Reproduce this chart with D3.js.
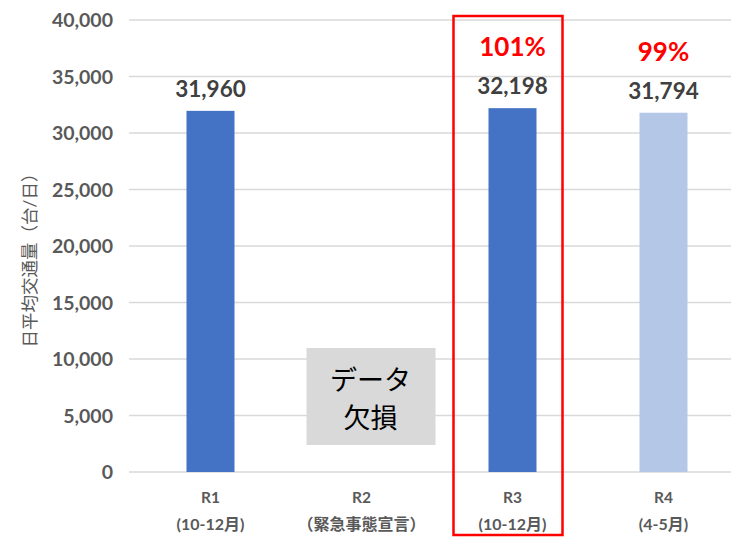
<!DOCTYPE html>
<html>
<head>
<meta charset="utf-8">
<script src="https://cdn.jsdelivr.net/npm/d3@7"></script>
<style>
  body { margin: 0; background: #fff; }
  text { font-family: Lato, "Noto Sans CJK JP", sans-serif; }
</style>
</head>
<body>
<script>
const categories = ["R1", "R2", "R3", "R4"];
const subLabels = ["(10-12月)", "（緊急事態宣言）", "(10-12月)", "(4-5月)"];
const values = [31960, null, 32198, 31794];
const barColors = ["#4472c4", "#4472c4", "#4472c4", "#b4c7e7"];
const ratioLabels = [null, null, "101%", "99%"];
const yTicks = [0, 5000, 10000, 15000, 20000, 25000, 30000, 35000, 40000];

const main = () => {
  const width = 731, height = 541;
  const svg = d3.select("body").append("svg")
    .attr("width", width)
    .attr("height", height);

  const x = d3.scaleBand()
    .domain(categories)
    .range([135, 739])
    .paddingInner(0.68)
    .paddingOuter(0.34);

  const y = d3.scaleLinear()
    .domain([0, 40000])
    .range([472, 20]);

  // grid
  svg.append("g")
    .selectAll("line")
    .data(yTicks)
    .enter()
    .append("line")
    .attr("x1", 129)
    .attr("x2", width)
    .attr("y1", d => y(d))
    .attr("y2", d => y(d))
    .attr("stroke", "#d9d9d9")
    .attr("stroke-width", 1.3);

  // y tick labels
  svg.append("g")
    .selectAll("text")
    .data(yTicks)
    .enter()
    .append("text")
    .attr("x", 113)
    .attr("y", d => y(d))
    .attr("dy", "0.36em")
    .attr("text-anchor", "end")
    .attr("font-size", 19.5)
    .attr("font-weight", "bold")
    .attr("fill", "#595959")
    .text(d => d3.format(",")(d));

  svg.append("text")
    .attr("transform", "translate(36,256) rotate(-90)")
    .attr("text-anchor", "middle")
    .attr("font-size", 17.5)
    .attr("fill", "#595959")
    .text("日平均交通量（台/日）");

  const bw = 48;
  const cx = d => x(d) + x.bandwidth() / 2;
  const bars = categories.map((c, i) => ({c, v: values[i], color: barColors[i], r: ratioLabels[i]}))
    .filter(d => d.v != null);

  svg.append("g")
    .selectAll("rect")
    .data(bars)
    .enter()
    .append("rect")
    .attr("x", d => cx(d.c) - bw / 2)
    .attr("y", d => y(d.v))
    .attr("width", bw)
    .attr("height", d => y(0) - y(d.v))
    .attr("fill", d => d.color);

  svg.append("g")
    .selectAll("text")
    .data(bars)
    .enter()
    .append("text")
    .attr("x", d => cx(d.c))
    .attr("y", d => y(d.v) - 14)
    .attr("text-anchor", "middle")
    .attr("font-size", 22.5)
    .attr("font-weight", "bold")
    .attr("fill", "#404040")
    .text(d => d3.format(",")(d.v));

  svg.append("g")
    .selectAll("text")
    .data(bars.filter(d => d.r))
    .enter()
    .append("text")
    .attr("x", d => cx(d.c))
    .attr("y", d => y(d.v) - 52)
    .attr("text-anchor", "middle")
    .attr("font-size", 26)
    .attr("font-weight", "bold")
    .attr("fill", "#ff0000")
    .text(d => d.r);

  // x labels
  const xl = svg.append("g")
    .selectAll("g")
    .data(categories)
    .enter()
    .append("g");
  xl.append("text")
    .attr("x", d => cx(d))
    .attr("y", 503)
    .attr("text-anchor", "middle")
    .attr("font-size", 15.5)
    .attr("font-weight", "bold")
    .attr("fill", "#595959")
    .text(d => d);
  xl.append("text")
    .attr("x", d => cx(d))
    .attr("y", 530)
    .attr("text-anchor", "middle")
    .attr("font-size", 16)
    .attr("font-weight", "bold")
    .attr("fill", "#595959")
    .text((d, i) => subLabels[i]);

  // data missing box for R2
  const r2 = cx("R2");
  svg.append("rect")
    .attr("x", r2 - 55)
    .attr("y", 348)
    .attr("width", 129)
    .attr("height", 97)
    .attr("fill", "#d9d9d9");
  svg.append("text")
    .attr("x", r2 + 9)
    .attr("y", 390)
    .attr("text-anchor", "middle")
    .attr("font-size", 27)
    .attr("fill", "#000")
    .text("データ");
  svg.append("text")
    .attr("x", r2 + 9)
    .attr("y", 428)
    .attr("text-anchor", "middle")
    .attr("font-size", 27)
    .attr("fill", "#000")
    .text("欠損");

  // highlight frame around R3
  svg.append("rect")
    .attr("x", cx("R3") - 59)
    .attr("y", 16)
    .attr("width", 109)
    .attr("height", 519)
    .attr("fill", "none")
    .attr("stroke", "#ff0000")
    .attr("stroke-width", 2.5);
};

window.onload = main;
</script>
</body>
</html>
